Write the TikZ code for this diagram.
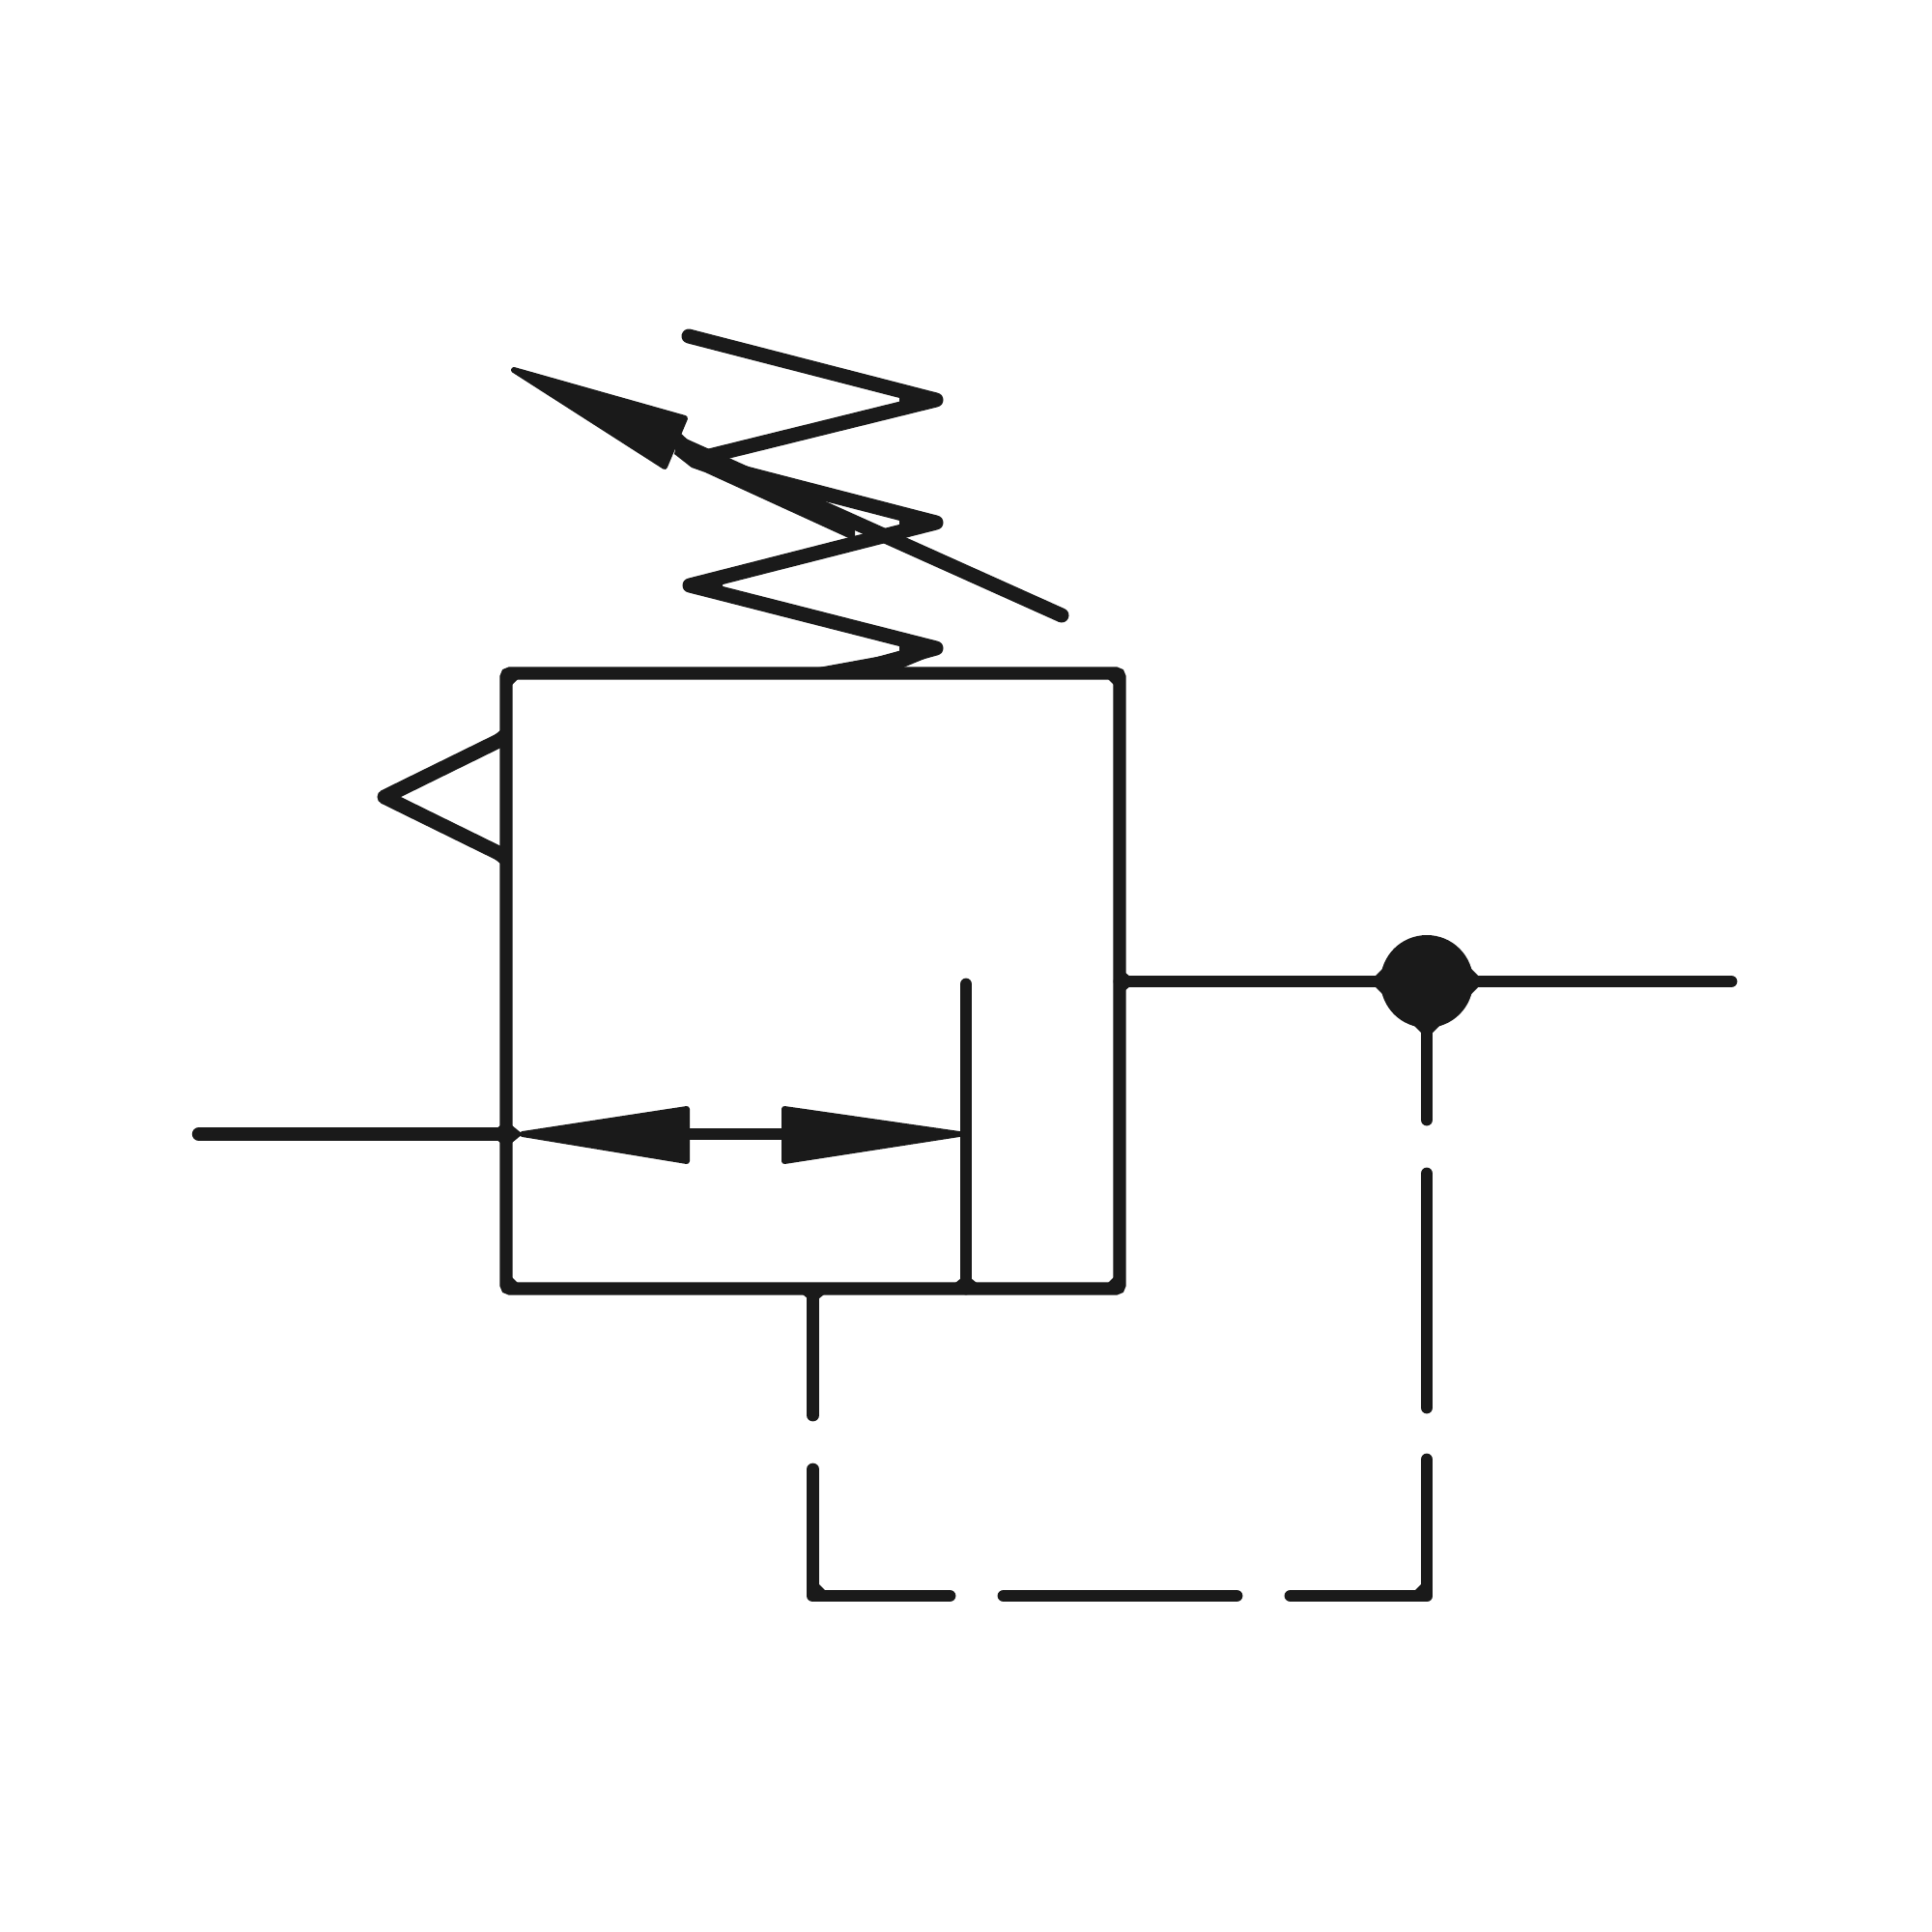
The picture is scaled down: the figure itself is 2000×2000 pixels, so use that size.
\documentclass[tikz,border=0pt]{standalone}
\usetikzlibrary{calc}
\definecolor{ink}{HTML}{1A1A1A}
\tikzset{
  x=0.5pt,y=-0.5pt,
  heavy/.style={draw=ink,line width=7.5pt,line cap=round,line join=round},
  inputline/.style={draw=ink,line width=7.2pt,line cap=round},
  thinline/.style={draw=ink,line width=6.4pt,line cap=round,line join=round},
  sepline/.style={draw=ink,line width=6.4pt,line cap=round},
  solidhead/.style={fill=ink,draw=ink,line width=3pt,line join=round},
  valvebox/.style={draw=ink,line width=6.6pt,rectangle,rounded corners=2pt,inner sep=0pt,minimum width=317.5pt,minimum height=318.5pt},
  junction/.style={circle,fill=ink,inner sep=0pt,minimum size=48pt}
}
\begin{document}
\begin{tikzpicture}
\useasboundingbox (0,0) rectangle (2000,2000);
\fill[white] (0,0) rectangle (2000,2000);
% valve body
\node[valvebox] (valve) at (841.5,1015.5) {};
\node[junction] (dot) at (1477,1016) {};
% named points
\coordinate (inL) at (206,1174);
\coordinate (inR) at (524,1174);
\coordinate (outL) at (1159,1016);
\coordinate (outR) at (1792,1016);
\coordinate (st) at (1000,1019);
\coordinate (sb) at (1000,1334);
\coordinate (s0) at (713,348);
\coordinate (s1) at (969,414);
\coordinate (s2) at (718,476);
\coordinate (s3) at (969,541);
\coordinate (s4) at (714,606);
\coordinate (s5) at (969,671);
\coordinate (s6) at (900,690);
\coordinate (aTip) at (532,383);
\coordinate (aB1) at (709,433);
\coordinate (aB2) at (688,483);
\coordinate (aTail) at (1099,637);
\coordinate (aBase) at (705,460);
\coordinate (t1) at (520,765);
\coordinate (t2) at (398,825);
\coordinate (t3) at (520,885);
\coordinate (lT) at (541,1174);
\coordinate (lB1) at (711,1148);
\coordinate (lB2) at (711,1202);
\coordinate (rT) at (993,1174);
\coordinate (rB1) at (812,1148);
\coordinate (rB2) at (812,1202);
% lines
\draw[inputline] (inL) -- (inR);
\draw[sepline] (outL) -- (dot);
\draw[sepline] (dot) -- (outR);
\draw[sepline] (st) -- (sb);
% spring
\draw[heavy] (s0) -- (s1) -- (s2) -- (s3) -- (s4) -- (s5) -- (s6);
\fill[ink] (820,696) -- (935,675) -- (974,675) -- (923,696) -- cycle;
% spring tips: inner corners
\fill[ink] (s1) -- ++(-38,-10) -- ++(0,20) -- cycle;
\fill[ink] (s3) -- ++(-38,-10) -- ++(0,20) -- cycle;
\fill[ink] (s5) -- ++(-38,-10) -- ++(0,20) -- cycle;
\fill[ink] (s4) -- ++(34,-9) -- ++(0,18) -- cycle;
% adjustment arrow
\draw[heavy] (aBase) -- (aTail);
\fill[ink] (716,470) -- (866,525) -- (885,540) -- (885,560) -- (730,489) -- (716,484) -- cycle;
\filldraw[solidhead] (aTip) -- (aB1) -- (aB2) -- cycle;
\fill[ink] (703,447) -- (728,470) -- (738,483) -- (716,484) -- (698,470) -- cycle;
% pilot triangle
\draw[heavy] (t1) -- (t2) -- (t3);
% double arrow
\draw[sepline] (lB1 |- inL) -- (rB1 |- inL);
\filldraw[solidhead] (lT) -- (lB1) -- (lB2) -- cycle;
\filldraw[solidhead] (rT) -- (rB1) -- (rB2) -- cycle;
% pilot line
\draw[thinline] (dot.south) -- (1477,1159);
\draw[thinline] (1477,1215) -- (1477,1457);
\draw[thinline] (1477,1511) -- (1477,1652) -- (1336,1652);
\draw[thinline] (1280,1652) -- (1039,1652);
\draw[thinline] (983,1652) -- (841.5,1652) -- (841.5,1521);
\draw[thinline] (841.5,1465) -- (valve.south);
% junction flares
\foreach \a/\b in {1000/1328,842/1340,1165/1016,518/1174,530/1174,518/765,518/885}
  \fill[ink] (\a-11,\b) -- (\a,\b-9) -- (\a+11,\b) -- (\a,\b+9) -- cycle;
\foreach \a/\b in {1432/1016,1522/1016,1477/1061}
  \fill[ink] (\a-14,\b) -- (\a,\b-14) -- (\a+14,\b) -- (\a,\b+14) -- cycle;
% inner corner fillets
\foreach \a/\b/\c/\d in {530/703/1/1,1153/703/-1/1,530/1328/1/-1,1153/1328/-1/-1,848/1646/1/-1,1471/1646/-1/-1}
  \fill[ink] (\a,\b) -- (\a+6*\c,\b) -- (\a,\b+6*\d) -- cycle;
\end{tikzpicture}
\end{document}
